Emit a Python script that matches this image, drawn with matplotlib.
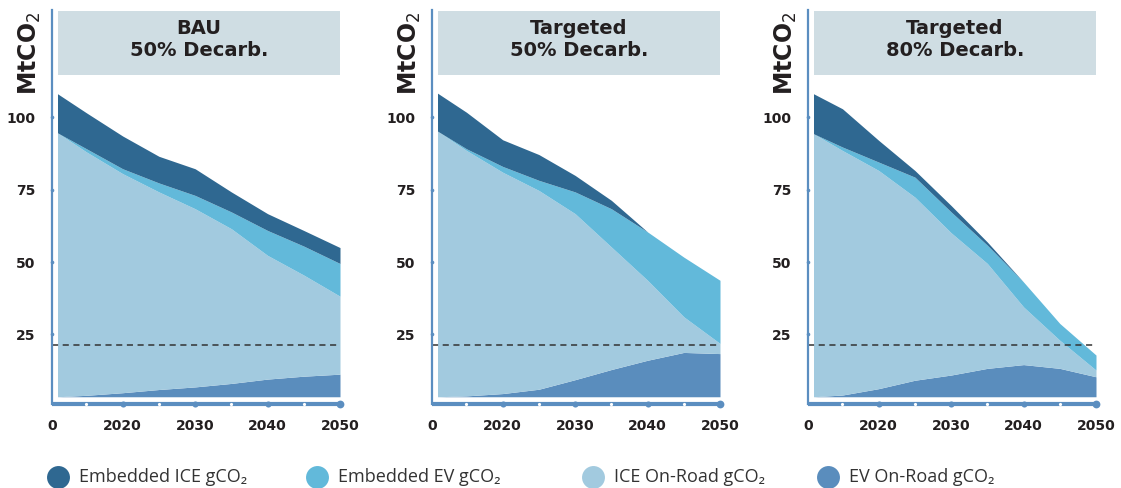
import numpy as np
import matplotlib.pyplot as plt
from matplotlib.patches import Rectangle

# Jahre und Werte (MtCO2, Dicke der einzelnen Schichten)
jahre = [2011, 2015, 2020, 2025, 2030, 2035, 2040, 2045, 2050]
titel = ['BAU\n50% Decarb.', 'Targeted\n50% Decarb.', 'Targeted\n80% Decarb.']

ev_road = [
    [0, 0.5, 1.4, 2.5, 3.4, 4.6, 6.1, 7.1, 7.8],
    [0, 0.3, 1.1, 2.6, 5.9, 9.4, 12.6, 15.3, 14.9],
    [0, 0.6, 2.8, 5.7, 7.5, 9.8, 11.1, 9.8, 6.9],
]
ice_road = [
    [91.1, 84.0, 75.6, 68.2, 61.5, 53.4, 42.7, 34.9, 26.9],
    [91.7, 84.7, 76.4, 68.6, 57.3, 42.3, 27.6, 12.3, 3.5],
    [90.8, 84.4, 75.3, 63.2, 49.1, 36.2, 19.9, 9.7, 2.3],
]
emb_ev = [
    [0, 1.1, 1.7, 3.1, 4.6, 5.8, 8.6, 10.0, 11.3],
    [0, 0.6, 2.0, 3.5, 7.5, 13.2, 16.7, 20.6, 21.8],
    [0, 1.2, 2.9, 6.9, 7.2, 6.3, 8.6, 5.8, 5.2],
]
emb_ice = [
    [13.5, 12.4, 11.3, 9.2, 9.2, 6.9, 5.8, 5.4, 5.5],
    [13.1, 12.6, 9.2, 8.9, 5.7, 2.9, 0, 0, 0],
    [13.8, 13.2, 7.5, 2.3, 2.2, 1.1, 0, 0, 0],
]
ziel_linie = 21.3
basis = 3.5

namen = ['Embedded ICE gCO₂', 'Embedded EV gCO₂', 'ICE On-Road gCO₂', 'EV On-Road gCO₂']
farben = ['#2f6891', '#62b9da', '#a2cadf', '#5a8dbd']   # emb_ice, emb_ev, ice_road, ev_road
achsen_farbe = '#5b8ec0'
text_farbe = '#231f20'

plt.rcParams['font.family'] = ['DejaVu Sans']

fig = plt.figure(figsize=(11.21, 4.88), dpi=100)
links = [52, 432, 808]

for i in range(3):
    ax = fig.add_axes([links[i] / 1121, 1 - 404 / 488, 288 / 1121, 394 / 488])
    x = np.array(jahre)
    s1 = basis + np.array(ev_road[i])
    s2 = s1 + np.array(ice_road[i])
    s3 = s2 + np.array(emb_ev[i])
    s4 = s3 + np.array(emb_ice[i])
    ax.fill_between(x, basis, s1, color=farben[3], lw=0)
    ax.fill_between(x, s1, s2, color=farben[2], lw=0)
    ax.fill_between(x, s2, s3, color=farben[1], lw=0)
    ax.fill_between(x, s3, s4, color=farben[0], lw=0)

    ax.set_xlim(2010.24, 2050)
    ax.set_ylim(1, 137)

    ax.axhline(ziel_linie, color='#333333', lw=1.1, ls=(0, (4, 3)))

    # Titelbox
    ax.add_patch(Rectangle((2011, 114.4), 39, 22.4, color='#cfdde3', lw=0, clip_on=False))
    ax.text(2030.5, 126.8, titel[i], ha='center', va='center', fontsize=14, fontweight='bold',
            color=text_farbe, linespacing=1.25)

    for side in ['top', 'right']:
        ax.spines[side].set_visible(False)
    ax.spines['left'].set_color(achsen_farbe)
    ax.spines['left'].set_linewidth(1.6)
    ax.spines['bottom'].set_color(achsen_farbe)
    ax.spines['bottom'].set_linewidth(3)
    ax.spines['bottom'].set_capstyle('butt')

    # Punkte auf den Achsen
    ax.plot([2015, 2025, 2035, 2045], [1] * 4, 'o', color='white', ms=2.3, mew=0,
            clip_on=False, zorder=5)
    ax.plot([2020, 2030, 2040], [1] * 3, 'o', color=achsen_farbe, ms=4.4, mew=0,
            clip_on=False, zorder=5)
    ax.plot([2050], [1], 'o', color=achsen_farbe, ms=5.6, mew=0, clip_on=False, zorder=5)
    ax.plot([2010.24] * 4, [25, 50, 75, 100], 'o', color=achsen_farbe, ms=2.6, mew=0,
            clip_on=False, zorder=5)

    ax.set_xticks([2010.24, 2020, 2030, 2040, 2050])
    ax.set_xticklabels(['0', '2020', '2030', '2040', '2050'])
    ax.set_yticks([25, 50, 75, 100])
    ax.tick_params(length=0, labelsize=10, labelcolor=text_farbe)
    ax.tick_params(axis='x', pad=11)
    ax.tick_params(axis='y', pad=12)
    for lab in ax.get_xticklabels() + ax.get_yticklabels():
        lab.set_fontweight('bold')

    ax.annotate('MtCO$_2$', xy=(0, 1), xycoords='axes fraction', xytext=(-16, -1),
                textcoords='offset points', rotation=90, ha='center', va='top',
                fontsize=17, fontweight='bold', color=text_farbe)

# Legende unten
leg = fig.add_axes([0, 0, 1, 1])
leg.set_xlim(0, 1121)
leg.set_ylim(488, 0)
leg.axis('off')
leg_x = [58, 317, 593, 828]
for lx, name, farbe in zip(leg_x, namen, farben):
    leg.plot([lx], [477], 'o', color=farbe, ms=16.5, mew=0, clip_on=False)
    leg.text(lx + 21, 477, name, va='center', ha='left', fontsize=13, color='#333333',
             family=['Open Sans', 'DejaVu Sans'])

fig.savefig('out.png', dpi=100)
